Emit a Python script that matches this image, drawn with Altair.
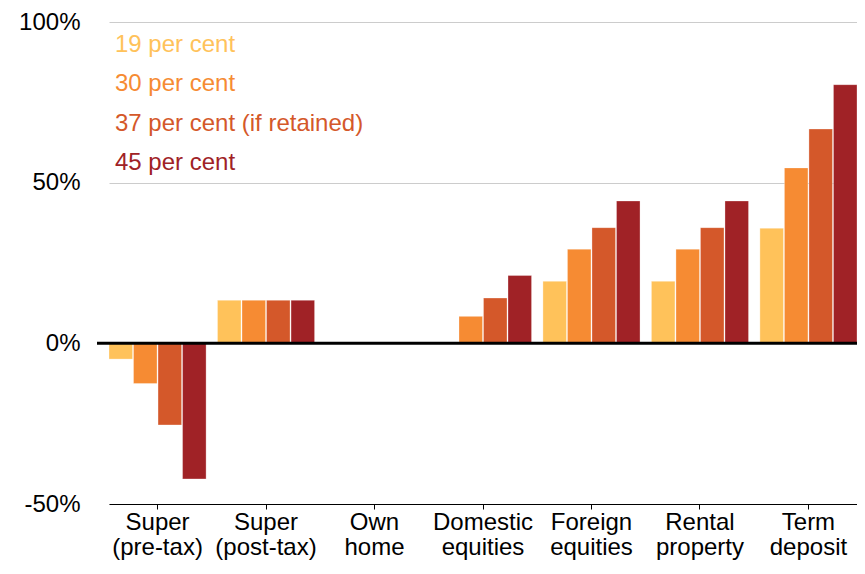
import altair as alt
import pandas as pd

categories = ["Super (pre-tax)", "Super (post-tax)", "Own home", "Domestic equities",
              "Foreign equities", "Rental property", "Term deposit"]
series = ["19 per cent", "30 per cent", "37 per cent (if retained)", "45 per cent"]
colors = ["#FFC25A", "#F68B33", "#D4582A", "#A02226"]

# values in per cent, one list per series (order follows categories)
v19 = [-4.9, 13.4, 0, 0, 19.3, 19.3, 35.8]
v30 = [-12.5, 13.4, 0, 8.4, 29.3, 29.3, 54.6]
v37 = [-25.4, 13.4, 0, 14.1, 36.0, 36.0, 66.7]
v45 = [-42.2, 13.4, 0, 21.1, 44.3, 44.3, 80.5]

y_ticks = [-50, 0, 50, 100]

rows = []
for s, vals in zip(series, [v19, v30, v37, v45]):
    for c, v in zip(categories, vals):
        rows.append({"category": c, "series": s, "value": v})
df = pd.DataFrame(rows)

W, H = 764, 482
PAD_L, PAD_T, PAD_B = 85, 14, 56
FONT = "Liberation Sans"
FS = 24

bars = alt.Chart(df).mark_bar(stroke="white", strokeWidth=0.6, strokeOpacity=0.5).encode(
    x=alt.X("category:N", sort=categories,
            scale=alt.Scale(domain=categories, range=[16, W], paddingInner=0.105, paddingOuter=0),
            axis=alt.Axis(title=None, labelAngle=0, labelExpr="split(datum.label, ' ')",
                          labelFontSize=FS, labelColor="black", labelLineHeight=25,
                          labelPadding=1, tickSize=5, tickColor="black", domainColor="black",
                          domainWidth=1.2, grid=False, labelFont=FONT)),
    xOffset=alt.XOffset("series:N", sort=series,
                        scale=alt.Scale(domain=series, paddingInner=0.04, paddingOuter=0)),
    y=alt.Y("value:Q", scale=alt.Scale(domain=[-50, 100], nice=False),
            axis=alt.Axis(title=None, values=y_ticks, labelExpr="datum.value + '%'",
                          labelFontSize=FS, labelColor="black", labelPadding=13,
                          domain=False, ticks=False, gridColor="#cccccc", gridWidth=1,
                          labelFont=FONT)),
    color=alt.Color("series:N", scale=alt.Scale(domain=series, range=colors), legend=None),
)

zero = alt.Chart(pd.DataFrame({"z": [0]})).mark_rule(color="black", strokeWidth=3).encode(
    y=alt.Y("z:Q"), x=alt.value(4), x2=alt.value(W)
)

legend_layers = []
for i, (s, col) in enumerate(zip(series, colors)):
    legend_layers.append(
        alt.Chart(pd.DataFrame({"label": [s]})).mark_text(
            align="left", baseline="middle", fontSize=FS, font=FONT, color=col
        ).encode(text="label:N", x=alt.value(22), y=alt.value(23 + i * 39.3))
    )

chart = alt.layer(bars, zero, *legend_layers).properties(
    width=W, height=H,
    autosize=alt.AutoSizeParams(type="none"),
    padding={"left": PAD_L, "top": PAD_T, "right": 0, "bottom": PAD_B},
).configure(font=FONT).configure_view(stroke=None)

chart.save("out.html", embed_options={"renderer": "svg", "actions": False})
